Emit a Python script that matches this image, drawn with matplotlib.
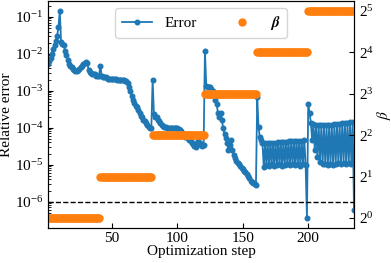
import numpy as np
import matplotlib
matplotlib.use("Agg")
import matplotlib.pyplot as plt

plt.rcParams['font.family'] = 'Liberation Serif'
plt.rcParams['mathtext.fontset'] = 'stix'
plt.rcParams['font.size'] = 11

# log10 of the relative error, one value per optimization step
err_log_seg1 = [-2.27, -2.19, -2.11, -2.00, -1.86, -1.75, -1.65, -1.51, -1.27, -0.84,
                -1.69, -1.73, -1.75, -1.92, -2.02, -2.16, -2.27, -2.32, -2.37, -2.40,
                -2.43, -2.46, -2.46, -2.43, -2.40, -2.37, -2.32, -2.29, -2.24, -2.21,
                -2.24, -2.43, -2.48, -2.51, -2.54, -2.56, -2.56, -2.59, -2.59, -2.59]
err_log_seg2 = [-2.32, -2.59, -2.62, -2.63, -2.64, -2.66, -2.67, -2.67, -2.67, -2.68,
                -2.68, -2.69, -2.69, -2.70, -2.70, -2.71, -2.71, -2.72, -2.72, -2.73,
                -2.73, -2.78, -2.89, -3.00, -3.13, -3.24, -3.32, -3.40, -3.45, -3.53,
                -3.59, -3.67, -3.72, -3.78, -3.83, -3.88, -3.94, -3.98, -4.01, -4.02]
err_log_seg3 = [-2.71, -3.64, -3.70, -3.72, -3.78, -3.83, -3.88, -3.92, -3.95, -3.98,
                -3.99, -4.01, -4.02, -4.02, -4.02, -4.02, -4.02, -4.02, -4.02, -4.02,
                -4.03, -4.05, -4.10, -4.16, -4.21, -4.26, -4.24, -4.29, -4.34, -4.37,
                -4.40, -4.45, -4.50, -4.53, -4.42, -4.37, -4.42, -4.48, -4.50, -4.48]
err_log_seg4 = [-1.92, -2.86, -2.89, -2.90, -2.91, -2.94, -3.00, -3.10, -3.26, -3.37,
                -3.61, -3.72, -3.59, -3.80, -4.02, -4.18, -4.29, -4.42, -4.61, -4.48,
                -4.34, -4.61, -4.75, -4.83, -4.91, -4.96, -4.99, -5.04, -5.10, -5.12,
                -5.18, -5.20, -5.26, -5.31, -5.37, -5.45, -5.47, -5.50, -5.53, -5.56]
err_log_seg5 = [-3.18, -3.99, -4.26, -4.34,
                -4.42, -5.07, -4.42, -5.02, -4.41, -5.04, -4.41, -4.99, -4.40, -5.04,
                -4.40, -5.02, -4.39, -4.99, -4.39, -5.04, -4.38, -5.02, -4.38, -4.99,
                -4.37, -5.02, -4.37, -4.99, -4.36, -5.02, -4.36, -4.99, -4.35, -5.04,
                -4.35, -4.99, -4.34, -5.02, -6.44]
err_log_seg6 = [-3.35, -3.61, -3.86, -4.34, -3.91, -4.61, -3.92, -4.80, -3.93, -4.93,
                -3.94, -4.99, -3.94, -4.99, -3.94, -5.02, -3.93, -4.99, -3.92, -5.02,
                -3.91, -4.99, -3.90, -4.96, -3.89, -4.99, -3.88, -4.96, -3.87, -4.99,
                -3.86, -4.96, -3.85, -4.99, -3.84, -6.23]

# beta schedule
beta_levels = [1, 2, 4, 8, 16, 32]
beta_counts = [40, 40, 40, 40, 39, 36]

tol = 1e-6

err_log = err_log_seg1 + err_log_seg2 + err_log_seg3 + err_log_seg4 + err_log_seg5 + err_log_seg6
err = 10.0 ** np.array(err_log)
steps = np.arange(1, len(err) + 1)
beta = np.repeat(beta_levels, beta_counts)

fig, ax = plt.subplots(figsize=(3.91, 2.63), dpi=100)
fig.subplots_adjust(left=0.1228, right=0.9054, bottom=0.132, top=0.998)

l1, = ax.plot(steps, err, '-o', color='#1f77b4', lw=1.3, markersize=3.3, label='Error')
ax.axhline(tol, color='black', ls='--', lw=1)
ax.set_yscale('log')
ax.set_xlim(steps[0], steps[-1])
ax.set_xticks([50, 100, 150, 200])
ax.set_xlabel('Optimization step', labelpad=0)
ax.set_ylabel('Relative error', labelpad=1)
ax.tick_params(which='both', direction='in')
ax.tick_params(axis='x', pad=3)

ax2 = ax.twinx()
l2, = ax2.plot(steps, beta, 'o', color='#ff7f0e', markersize=5, ls='none',
               label=r'$\boldsymbol{\beta}$')
ax2.set_yscale('log', base=2)
ax2.set_ylabel(r'$\beta$', labelpad=1)
ax2.tick_params(which='both', direction='in')

ax2.legend(handles=[l1, l2], loc='upper center', ncol=2)

fig.savefig('out.png', dpi=100)
